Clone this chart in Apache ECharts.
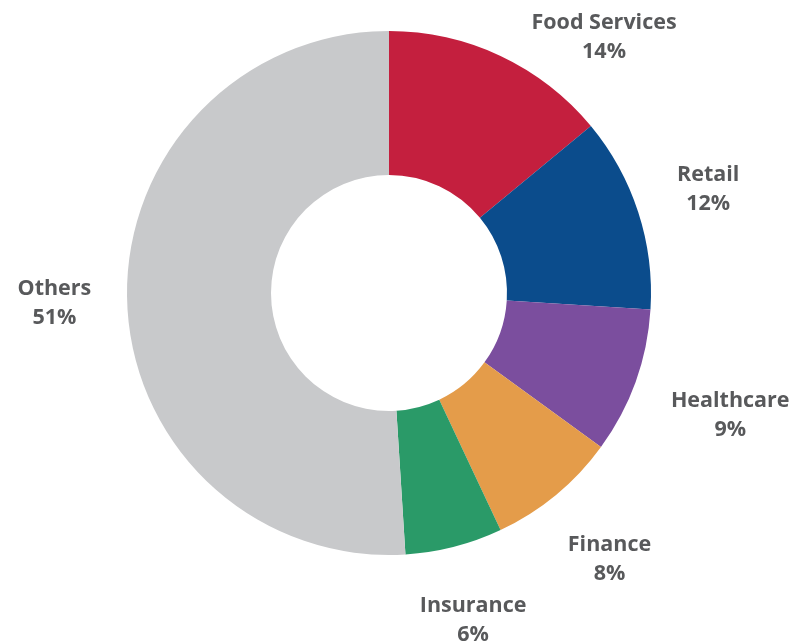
<!DOCTYPE html>
<html>
<head>
<meta charset="utf-8">
<script src="https://cdn.jsdelivr.net/npm/echarts@6/dist/echarts.min.js"></script>
<style>
  html, body { margin: 0; padding: 0; background: #ffffff; }
  #chart { width: 790px; height: 641px; }
</style>
</head>
<body>
<div id="chart"></div>
<script>
// Share of workforce by industry (percent)
const categories = ['Food Services', 'Retail', 'Healthcare', 'Finance', 'Insurance', 'Others'];
const shares = [14, 12, 9, 8, 6, 51];
const sliceColors = ['#c41f3e', '#0b4c8c', '#7b4e9e', '#e49c4a', '#2a9a68', '#c8c9cb'];

// Ring geometry
const CX = 389, CY = 293;
const INNER_R = 118, OUTER_R = 262;
const LABEL_GAP = 297;   // distance from centre to the nearest edge of each label box
const TOP_PAD = 8;

// Mid angle of every slice, measured clockwise from 12 o'clock
const total = shares.reduce((a, b) => a + b, 0);
const midAngles = [];
let acc = 0;
shares.forEach(v => {
  midAngles.push(((acc + v / 2) / total) * Math.PI * 2);
  acc += v;
});

const chart = echarts.init(document.getElementById('chart'), null, { renderer: 'canvas' });

chart.setOption({
  backgroundColor: '#ffffff',
  animation: false,
  series: [{
    type: 'pie',
    center: [CX, CY],
    radius: [INNER_R, OUTER_R],
    startAngle: 90,
    clockwise: true,
    avoidLabelOverlap: false,
    silent: true,
    itemStyle: { borderWidth: 0 },
    data: categories.map((name, i) => ({
      name: name,
      value: shares[i],
      itemStyle: { color: sliceColors[i] }
    })),
    label: {
      show: true,
      position: 'outside',
      formatter: '{b}\n{c}%',
      fontFamily: '"Open Sans", "Noto Sans", sans-serif',
      fontWeight: 'bold',
      fontSize: 21.5,
      lineHeight: 29,
      color: '#58595b',
      align: 'center'
    },
    labelLine: { show: false },
    labelLayout: function (p) {
      const mid = midAngles[p.dataIndex];
      const dx = Math.sin(mid), dy = -Math.cos(mid);
      const hw = p.labelRect.width / 2, hh = p.labelRect.height / 2;
      const r = LABEL_GAP + hw * Math.abs(dx) + hh * Math.abs(dy);
      let x = CX + r * dx, y = CY + r * dy;
      if (y - hh < TOP_PAD) {
        // keep the label on the canvas and slide it sideways to clear the ring
        y = TOP_PAD + hh;
        const cornerDy = y + hh - CY;
        const cornerR = OUTER_R + 6;
        x = CX + Math.sqrt(cornerR * cornerR - cornerDy * cornerDy) + hw;
      }
      return { x: x, y: y, align: 'center', verticalAlign: 'middle' };
    }
  }]
});
</script>
</body>
</html>
